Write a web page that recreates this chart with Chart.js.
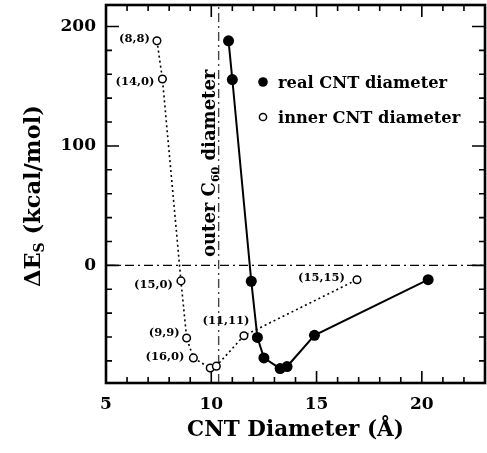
<!DOCTYPE html>
<html>
<head>
<meta charset="utf-8">
<script src="https://cdn.jsdelivr.net/npm/chart.js@4.4.1/dist/chart.umd.min.js"></script>
<style>
  html, body { margin: 0; padding: 0; background: #fff; }
  #wrap { width: 487px; height: 453px; }
</style>
</head>
<body>
<div id="wrap"><canvas id="chart-es" width="487" height="453"></canvas></div>
<script>
// CNT diameter (A) vs. stabilization energy dEs (kcal/mol)
const realDiameter = [10.82, 11.0, 11.9, 12.19, 12.5, 13.27, 13.6, 14.9, 20.3];
const realEnergy = [188, 155.6, -13.3, -60.3, -77.5, -86.4, -84.7, -58.6, -12];

const innerDiameter = [7.42, 7.68, 8.56, 8.83, 9.15, 9.95, 10.24, 11.55, 16.92];
const innerEnergy = [188, 156, -13, -60.8, -77.5, -86, -84.4, -58.9, -12];
const innerLabels = ['(8,8)', '(14,0)', '(15,0)', '(9,9)', '(16,0)', '', '', '(11,11)', '(15,15)'];

const c60Outer = 10.35;

const xRange = [5, 23];
const yRange = [-98.5, 218];
const xTicks = [5, 10, 15, 20];
const yTicks = [0, 100, 200];

const SERIF = "'DejaVu Serif', 'Liberation Serif', serif";

function toPoints(xs, ys) {
    return xs.map(function (x, i) { return { x: x, y: ys[i] }; });
}

// where each (n,m) label sits relative to its point
const labelOffsets = {
    '(8,8)': [-7, -2, 'right'],
    '(14,0)': [-8, 3, 'right'],
    '(15,0)': [-8, 4, 'right'],
    '(9,9)': [-7, -5, 'right'],
    '(16,0)': [-9, -1, 'right'],
    '(11,11)': [-18, -15, 'center'],
    '(15,15)': [-12, -2, 'right']
};

// keep the plot box where the figure has it; no room for edge labels
function noEdgePadding(scale) {
    scale.paddingTop = 0;
    scale.paddingBottom = 0;
    scale.paddingLeft = 0;
    scale.paddingRight = 0;
}

const decorations = {
    id: 'decorations',
    afterDatasetsDraw(chart) {
        const ctx = chart.ctx;
        const a = chart.chartArea;
        const xs = chart.scales.x;
        const ys = chart.scales.y;

        ctx.save();
        ctx.strokeStyle = '#000';
        ctx.fillStyle = '#000';

        // ticks inside on all four sides
        ctx.lineWidth = 1.6;
        ctx.beginPath();
        for (let v = xRange[0]; v <= xRange[1]; v += 1) {
            const px = xs.getPixelForValue(v);
            const len = v % 5 === 0 ? 12 : 6;
            ctx.moveTo(px, a.bottom); ctx.lineTo(px, a.bottom - len);
            ctx.moveTo(px, a.top); ctx.lineTo(px, a.top + len);
        }
        for (let v = -80; v <= 200; v += 20) {
            const py = ys.getPixelForValue(v);
            const len = v % 100 === 0 ? 13 : 6;
            ctx.moveTo(a.left, py); ctx.lineTo(a.left + len, py);
            ctx.moveTo(a.right, py); ctx.lineTo(a.right - len, py);
        }
        ctx.stroke();

        ctx.lineWidth = 2.6;
        ctx.strokeRect(a.left, a.top, a.right - a.left, a.bottom - a.top);

        // (n,m) labels next to the inner-diameter points
        const meta = chart.getDatasetMeta(1);
        ctx.font = 'bold 11.5px ' + SERIF;
        ctx.textBaseline = 'middle';
        meta.data.forEach(function (pt, i) {
            const lab = innerLabels[i];
            if (!lab) return;
            const off = labelOffsets[lab];
            ctx.textAlign = off[2];
            ctx.fillText(lab, pt.x + off[0], pt.y + off[1]);
        });

        // "outer C60 diameter" along the vertical line
        const lx = xs.getPixelForValue(c60Outer);
        ctx.save();
        ctx.translate(lx - 4, 257);
        ctx.rotate(-Math.PI / 2);
        ctx.textAlign = 'left';
        ctx.textBaseline = 'alphabetic';
        ctx.font = 'bold 18px ' + SERIF;
        let w = 0;
        ctx.fillText('outer C', w, 0);
        w += ctx.measureText('outer C').width;
        ctx.font = 'bold 11px ' + SERIF;
        ctx.fillText('60', w, 4);
        w += ctx.measureText('60').width;
        ctx.font = 'bold 18px ' + SERIF;
        ctx.fillText(' diameter', w, 0);
        ctx.restore();

        // legend
        ctx.font = 'bold 16.3px ' + SERIF;
        ctx.textAlign = 'left';
        ctx.textBaseline = 'alphabetic';
        ctx.beginPath();
        ctx.arc(263, 82, 4.8, 0, Math.PI * 2);
        ctx.fill();
        ctx.fillText('real CNT diameter', 278, 88);
        ctx.lineWidth = 1.5;
        ctx.beginPath();
        ctx.arc(263, 117, 3.6, 0, Math.PI * 2);
        ctx.stroke();
        ctx.fillText('inner CNT diameter', 278, 123);

        // axis titles
        ctx.font = 'bold 21.5px ' + SERIF;
        ctx.textAlign = 'center';
        ctx.fillText('CNT Diameter (\u00C5)', (a.left + a.right) / 2, 436);

        ctx.save();
        ctx.translate(40, 287);
        ctx.rotate(-Math.PI / 2);
        ctx.textAlign = 'left';
        ctx.font = 'bold 22.5px ' + SERIF;
        let t = 0;
        ctx.fillText('\u0394E', t, 0);
        t += ctx.measureText('\u0394E').width;
        ctx.font = 'bold 14px ' + SERIF;
        ctx.fillText('S', t, 4);
        t += ctx.measureText('S').width;
        ctx.font = 'bold 22.5px ' + SERIF;
        ctx.fillText(' (kcal/mol)', t, 0);
        ctx.restore();

        ctx.restore();
    }
};

const ctx = document.getElementById('chart-es');
const myChart = new Chart(ctx, {
    type: 'scatter',
    data: {
        datasets: [{
            label: 'real CNT diameter',
            data: toPoints(realDiameter, realEnergy),
            showLine: true,
            borderColor: '#000',
            borderWidth: 2,
            backgroundColor: '#000',
            pointBackgroundColor: '#000',
            pointBorderColor: '#000',
            pointRadius: 5.5,
            pointBorderWidth: 0
        }, {
            label: 'inner CNT diameter',
            data: toPoints(innerDiameter, innerEnergy),
            showLine: true,
            borderColor: '#000',
            borderWidth: 1.6,
            borderDash: [2, 3],
            pointBackgroundColor: '#fff',
            pointBorderColor: '#000',
            pointRadius: 3.8,
            pointBorderWidth: 1.5
        }, {
            label: 'zero',
            data: [{ x: xRange[0], y: 0 }, { x: xRange[1], y: 0 }],
            showLine: true,
            borderColor: '#000',
            borderWidth: 1.4,
            borderDash: [9, 4, 2, 4],
            pointRadius: 0
        }, {
            label: 'outer C60',
            data: [{ x: c60Outer, y: yRange[0] }, { x: c60Outer, y: yRange[1] }],
            showLine: true,
            borderColor: '#444',
            borderWidth: 1.4,
            borderDash: [9, 4, 2, 4],
            pointRadius: 0
        }]
    },
    options: {
        responsive: false,
        animation: false,
        layout: { autoPadding: false, padding: { top: 5, right: 2, left: 0, bottom: 0 } },
        plugins: {
            legend: { display: false },
            tooltip: { enabled: false }
        },
        scales: {
            x: {
                type: 'linear',
                min: xRange[0],
                max: xRange[1],
                grid: { display: false },
                border: { display: false },
                afterBuildTicks: function (scale) {
                    scale.ticks = xTicks.map(function (v) { return { value: v }; });
                },
                afterFit: function (scale) {
                    scale.height = 70;
                    noEdgePadding(scale);
                },
                ticks: {
                    padding: 3,
                    color: '#000',
                    font: { family: SERIF, size: 17, weight: 'bold' }
                }
            },
            y: {
                type: 'linear',
                min: yRange[0],
                max: yRange[1],
                grid: { display: false },
                border: { display: false },
                afterBuildTicks: function (scale) {
                    scale.ticks = yTicks.map(function (v) { return { value: v }; });
                },
                afterFit: function (scale) {
                    scale.width = 106;
                    noEdgePadding(scale);
                },
                ticks: {
                    padding: 2,
                    color: '#000',
                    font: { family: SERIF, size: 17, weight: 'bold' }
                }
            }
        }
    },
    plugins: [decorations]
});
</script>
</body>
</html>
